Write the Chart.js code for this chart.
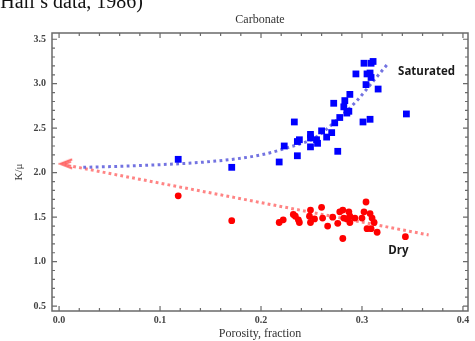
<!DOCTYPE html>
<html>
<head>
<meta charset="utf-8">
<script src="https://cdn.jsdelivr.net/npm/chart.js@4/dist/chart.umd.min.js"></script>
<style>
  html, body { margin: 0; padding: 0; background: #fff; overflow: hidden; }
  #wrap { position: relative; width: 475px; height: 341px; overflow: hidden; }
  #note { position: absolute; right: 332px; top: -9px; font-family: "Liberation Serif", serif; font-size: 20px; line-height: 20px; color: #111; white-space: nowrap; }
  canvas { position: absolute; left: 0; top: 0; }
</style>
</head>
<body>
<div id="wrap">
  <canvas id="c" width="475" height="341"></canvas>
  <div id="note">(Hall’s data, 1986)</div>
</div>
<script>
// ---- data ----
const satPorosity = [0.118,0.171,0.218,0.223,0.233,0.236,0.238,0.236,0.249,0.249,0.249,0.255,0.256,0.260,0.265,0.276,0.272,0.273,0.278,0.282,0.283,0.285,0.287,0.288,0.301,0.308,0.294,0.302,0.309,0.311,0.305,0.308,0.309,0.304,0.316,0.344,0.270];
const satKmu      = [2.15,2.06,2.12,2.30,2.57,2.19,2.37,2.35,2.43,2.39,2.29,2.37,2.33,2.47,2.40,2.24,2.78,2.56,2.62,2.74,2.81,2.67,2.69,2.88,2.57,2.60,3.11,3.23,3.23,3.25,3.11,3.12,3.07,2.99,2.94,2.66,2.45];

const dryPorosity = [0.118,0.171,0.218,0.222,0.232,0.234,0.237,0.238,0.249,0.248,0.253,0.249,0.260,0.261,0.266,0.271,0.276,0.278,0.281,0.287,0.282,0.285,0.288,0.293,0.288,0.302,0.300,0.304,0.308,0.310,0.312,0.305,0.309,0.315,0.281,0.343];
const dryKmu      = [1.74,1.46,1.44,1.47,1.53,1.51,1.47,1.44,1.58,1.51,1.48,1.44,1.61,1.49,1.40,1.50,1.43,1.56,1.58,1.56,1.49,1.48,1.51,1.49,1.44,1.56,1.49,1.67,1.54,1.49,1.44,1.37,1.37,1.33,1.26,1.28];

const satTrendX = [0.024,0.080,0.155,0.200,0.229,0.253,0.275,0.295,0.312,0.326];
const satTrendY = [2.06,2.08,2.13,2.20,2.29,2.39,2.59,2.81,3.04,3.23];
const dryTrendX = [0.014,0.366];
const dryTrendY = [2.07,1.30];
const arrowX = [0.007];
const arrowY = [2.10];

const labelText = ["Saturated","Dry"];
const labelX = [0.364,0.336];
const labelY = [3.13,1.12];

const xTicks = [0.0,0.1,0.2,0.3,0.4];
const yTicks = [0.5,1.0,1.5,2.0,2.5,3.0,3.5];

const pts = (xs, ys) => xs.map((x, i) => ({x: x, y: ys[i]}));

// arrowhead style image
const arrowImg = document.createElement('canvas');
arrowImg.width = 16; arrowImg.height = 12;
(function(){
  const g = arrowImg.getContext('2d');
  g.strokeStyle = 'rgba(255,90,90,0.9)';
  g.lineWidth = 2;
  g.beginPath();
  g.moveTo(14, 1.5); g.lineTo(2, 6); g.lineTo(14, 10.5);
  g.stroke();
  g.lineWidth = 1.5;
  g.beginPath();
  g.moveTo(13, 4); g.lineTo(6.5, 6); g.lineTo(13, 8);
  g.stroke();
})();

const frameTicks = {
  id: 'frameTicks',
  afterDraw(chart) {
    const {ctx, chartArea: a, scales} = chart;
    const xs = scales.x, ys = scales.y;
    ctx.save();
    ctx.strokeStyle = '#6a6a6a';
    ctx.lineWidth = 1.5;
    ctx.strokeRect(a.left, a.top, a.right - a.left, a.bottom - a.top);
    ctx.lineWidth = 1.2;
    ctx.beginPath();
    for (let i = 0; i <= 20; i++) {
      const v = i * 0.02;
      const px = xs.getPixelForValue(v);
      const len = (i % 5 === 0) ? 5 : 3;
      ctx.moveTo(px, a.bottom); ctx.lineTo(px, a.bottom - len);
      ctx.moveTo(px, a.top); ctx.lineTo(px, a.top + len);
    }
    for (let i = 5; i <= 35; i++) {
      const v = i * 0.1;
      const py = ys.getPixelForValue(v);
      const len = (i % 5 === 0) ? 5 : 3;
      ctx.moveTo(a.left, py); ctx.lineTo(a.left + len, py);
      ctx.moveTo(a.right, py); ctx.lineTo(a.right - len, py);
    }
    ctx.stroke();
    // series labels
    ctx.fillStyle = '#1a1a1a';
    ctx.font = 'bold 11.5px "Open Sans", "Liberation Sans", sans-serif';
    ctx.textAlign = 'center';
    ctx.textBaseline = 'middle';
    labelText.forEach((t, i) => {
      ctx.fillText(t, xs.getPixelForValue(labelX[i]), ys.getPixelForValue(labelY[i]));
    });
    ctx.restore();
  }
};

const serif = '"Liberation Serif", "DejaVu Serif", serif';

new Chart(document.getElementById('c'), {
  type: 'scatter',
  data: {
    datasets: [
      { label: 'Saturated', data: pts(satPorosity, satKmu), pointStyle: 'rect', pointRadius: 4.8, backgroundColor: '#0000ff', borderColor: '#0000ff', borderWidth: 0 },
      { label: 'Dry', data: pts(dryPorosity, dryKmu), pointStyle: 'circle', pointRadius: 3.4, backgroundColor: '#ff0000', borderColor: '#ff0000', borderWidth: 0 },
      { label: 'Sat trend', data: pts(satTrendX, satTrendY), showLine: true, pointRadius: 0, borderColor: 'rgba(90,90,220,0.85)', borderWidth: 3, borderDash: [2.8, 3.4], cubicInterpolationMode: 'monotone', fill: false },
      { label: 'Dry trend', data: pts(dryTrendX, dryTrendY), showLine: true, pointRadius: 0, borderColor: 'rgba(255,110,110,0.85)', borderWidth: 3, borderDash: [2.8, 3.2], fill: false },
      { label: 'arrow', data: pts(arrowX, arrowY), pointStyle: arrowImg, pointRadius: 6 }
    ]
  },
  options: {
    responsive: false,
    animation: false,
    events: [],
    layout: { padding: { left: 0, right: 3, top: 0, bottom: 0 } },
    plugins: {
      legend: { display: false },
      tooltip: { enabled: false },
      title: {
        display: true, text: 'Carbonate', fullSize: false,
        color: '#333', font: { family: serif, size: 12, weight: 'normal', lineHeight: 1.2 },
        padding: { top: 13, bottom: 5.6 }
      }
    },
    scales: {
      x: {
        type: 'linear', min: -0.007, max: 0.405,
        afterBuildTicks: s => { s.ticks = xTicks.map(v => ({value: v})); },
        afterFit: s => { s.height = 30; s.paddingRight = 0; s.paddingLeft = 0; },
        ticks: { includeBounds: false, callback: v => v.toFixed(1), color: '#444', font: { family: serif, size: 10, weight: 'bold' }, padding: 3, maxRotation: 0 },
        grid: { display: false, drawTicks: false },
        border: { display: false },
        title: { display: true, text: 'Porosity, fraction', color: '#333', font: { family: serif, size: 12 }, padding: { top: 1, bottom: 0 } }
      },
      y: {
        type: 'linear', min: 0.445, max: 3.57,
        afterBuildTicks: s => { s.ticks = yTicks.map(v => ({value: v})); },
        afterFit: s => { s.width = 52; s.paddingTop = 0; s.paddingBottom = 0; },
        ticks: { includeBounds: false, callback: v => v.toFixed(1), color: '#444', font: { family: serif, size: 10, weight: 'bold' }, padding: 6 },
        grid: { display: false, drawTicks: false },
        border: { display: false },
        title: { display: true, text: 'K/μ', color: '#333', font: { family: serif, size: 11 }, padding: { top: 13, bottom: 0 } }
      }
    }
  },
  plugins: [frameTicks]
});
</script>
</body>
</html>
